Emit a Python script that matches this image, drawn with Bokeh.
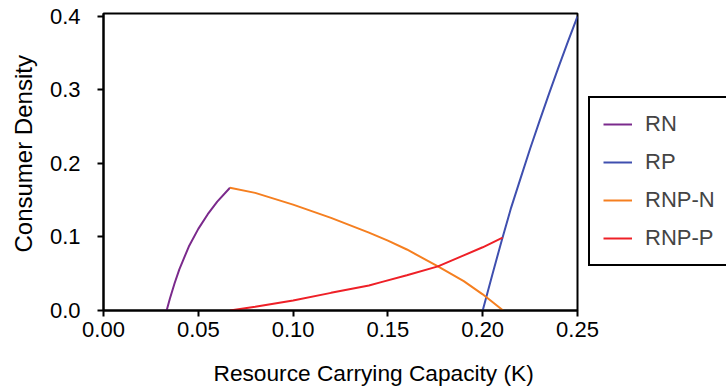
from bokeh.plotting import figure
from bokeh.models import (Range1d, FixedTicker, Legend, LegendItem, Title,
                          CustomJSTickFormatter)
from bokeh.embed import file_html
from bokeh.resources import INLINE

FONT = "Liberation Sans"

# ---- data ----
rn_k = [0.0333, 0.035, 0.0375, 0.04, 0.045, 0.05, 0.055, 0.06, 0.0667]
rn_c = [0.0, 0.016, 0.037, 0.056, 0.087, 0.111, 0.131, 0.148, 0.167]

rp_k = [0.2, 0.205, 0.21, 0.215, 0.22, 0.225, 0.23, 0.235, 0.24, 0.245, 0.25]
rp_c = [0.0, 0.048, 0.095, 0.140, 0.180, 0.220, 0.258, 0.295, 0.331, 0.366, 0.40]

rnpn_k = [0.0667, 0.08, 0.10, 0.12, 0.14, 0.15, 0.16, 0.1764, 0.19, 0.20, 0.2108]
rnpn_c = [0.167, 0.160, 0.144, 0.126, 0.106, 0.095, 0.083, 0.060, 0.040, 0.022, 0.0]

rnpp_k = [0.0667, 0.08, 0.10, 0.12, 0.14, 0.1465, 0.16, 0.1764, 0.19, 0.20, 0.2105]
rnpp_c = [0.0, 0.005, 0.0136, 0.024, 0.034, 0.0386, 0.048, 0.060, 0.075, 0.086, 0.099]

x_ticks = [0.0, 0.05, 0.10, 0.15, 0.20, 0.25]
y_ticks = [0.0, 0.1, 0.2, 0.3, 0.4]

series_names = ["RN", "RP", "RNP-N", "RNP-P"]
series_colors = ["#7B2A8C", "#3F4FAF", "#F57F20", "#EE2027"]

p = figure(frame_width=474, frame_height=297,
           min_border_left=103, min_border_right=141,
           min_border_top=13, min_border_bottom=73,
           x_range=Range1d(0, 0.25), y_range=Range1d(0, 0.404),
           output_backend="svg", toolbar_location=None,
           background_fill_color="white", border_fill_color="white")

p.grid.visible = False
p.outline_line_color = "black"
p.outline_line_width = 2

for ax in (p.xaxis[0], p.yaxis[0]):
    ax.axis_line_width = 2
    ax.axis_line_color = "black"
    ax.major_tick_line_width = 2
    ax.major_tick_line_color = "black"
    ax.major_tick_out = 6
    ax.major_tick_in = 0
    ax.minor_tick_line_color = None
    ax.major_label_text_font = FONT
    ax.major_label_text_font_size = "22px"
    ax.major_label_text_color = "black"

p.xaxis.ticker = FixedTicker(ticks=x_ticks)
p.yaxis.ticker = FixedTicker(ticks=y_ticks)
p.xaxis.formatter = CustomJSTickFormatter(code="return tick.toFixed(2);")
p.yaxis.formatter = CustomJSTickFormatter(code="return tick.toFixed(1);")
p.xaxis.major_label_standoff = 5
p.yaxis.major_label_standoff = 17

yt = Title(text="Consumer Density", align="left", offset=58,
           vertical_align="top",
           text_font=FONT, text_font_size="24px", text_font_style="normal",
           text_color="black", standoff=16)
p.add_layout(yt, "left")

xt = Title(text="Resource Carrying Capacity (K)", align="left", offset=110,
           text_font=FONT, text_font_size="22.7px", text_font_style="normal",
           text_color="black", standoff=36)
p.add_layout(xt, "below")

data = [(rn_k, rn_c), (rp_k, rp_c), (rnpn_k, rnpn_c), (rnpp_k, rnpp_c)]
items = []
for (k, c), name, col in zip(data, series_names, series_colors):
    r = p.line(k, c, line_color=col, line_width=2)
    items.append(LegendItem(label=name, renderers=[r]))

legend = Legend(items=items, location=(11, 44),
                border_line_color="black", border_line_width=2,
                border_line_alpha=1,
                padding=13, margin=0, spacing=12,
                glyph_width=29, glyph_height=20, label_height=20,
                label_width=100, label_standoff=13,
                label_text_font=FONT, label_text_font_size="22px",
                label_text_line_height=1.0,
                background_fill_color="white", background_fill_alpha=1)
p.add_layout(legend, "right")

open("out.html", "w").write(file_html(p, INLINE))
